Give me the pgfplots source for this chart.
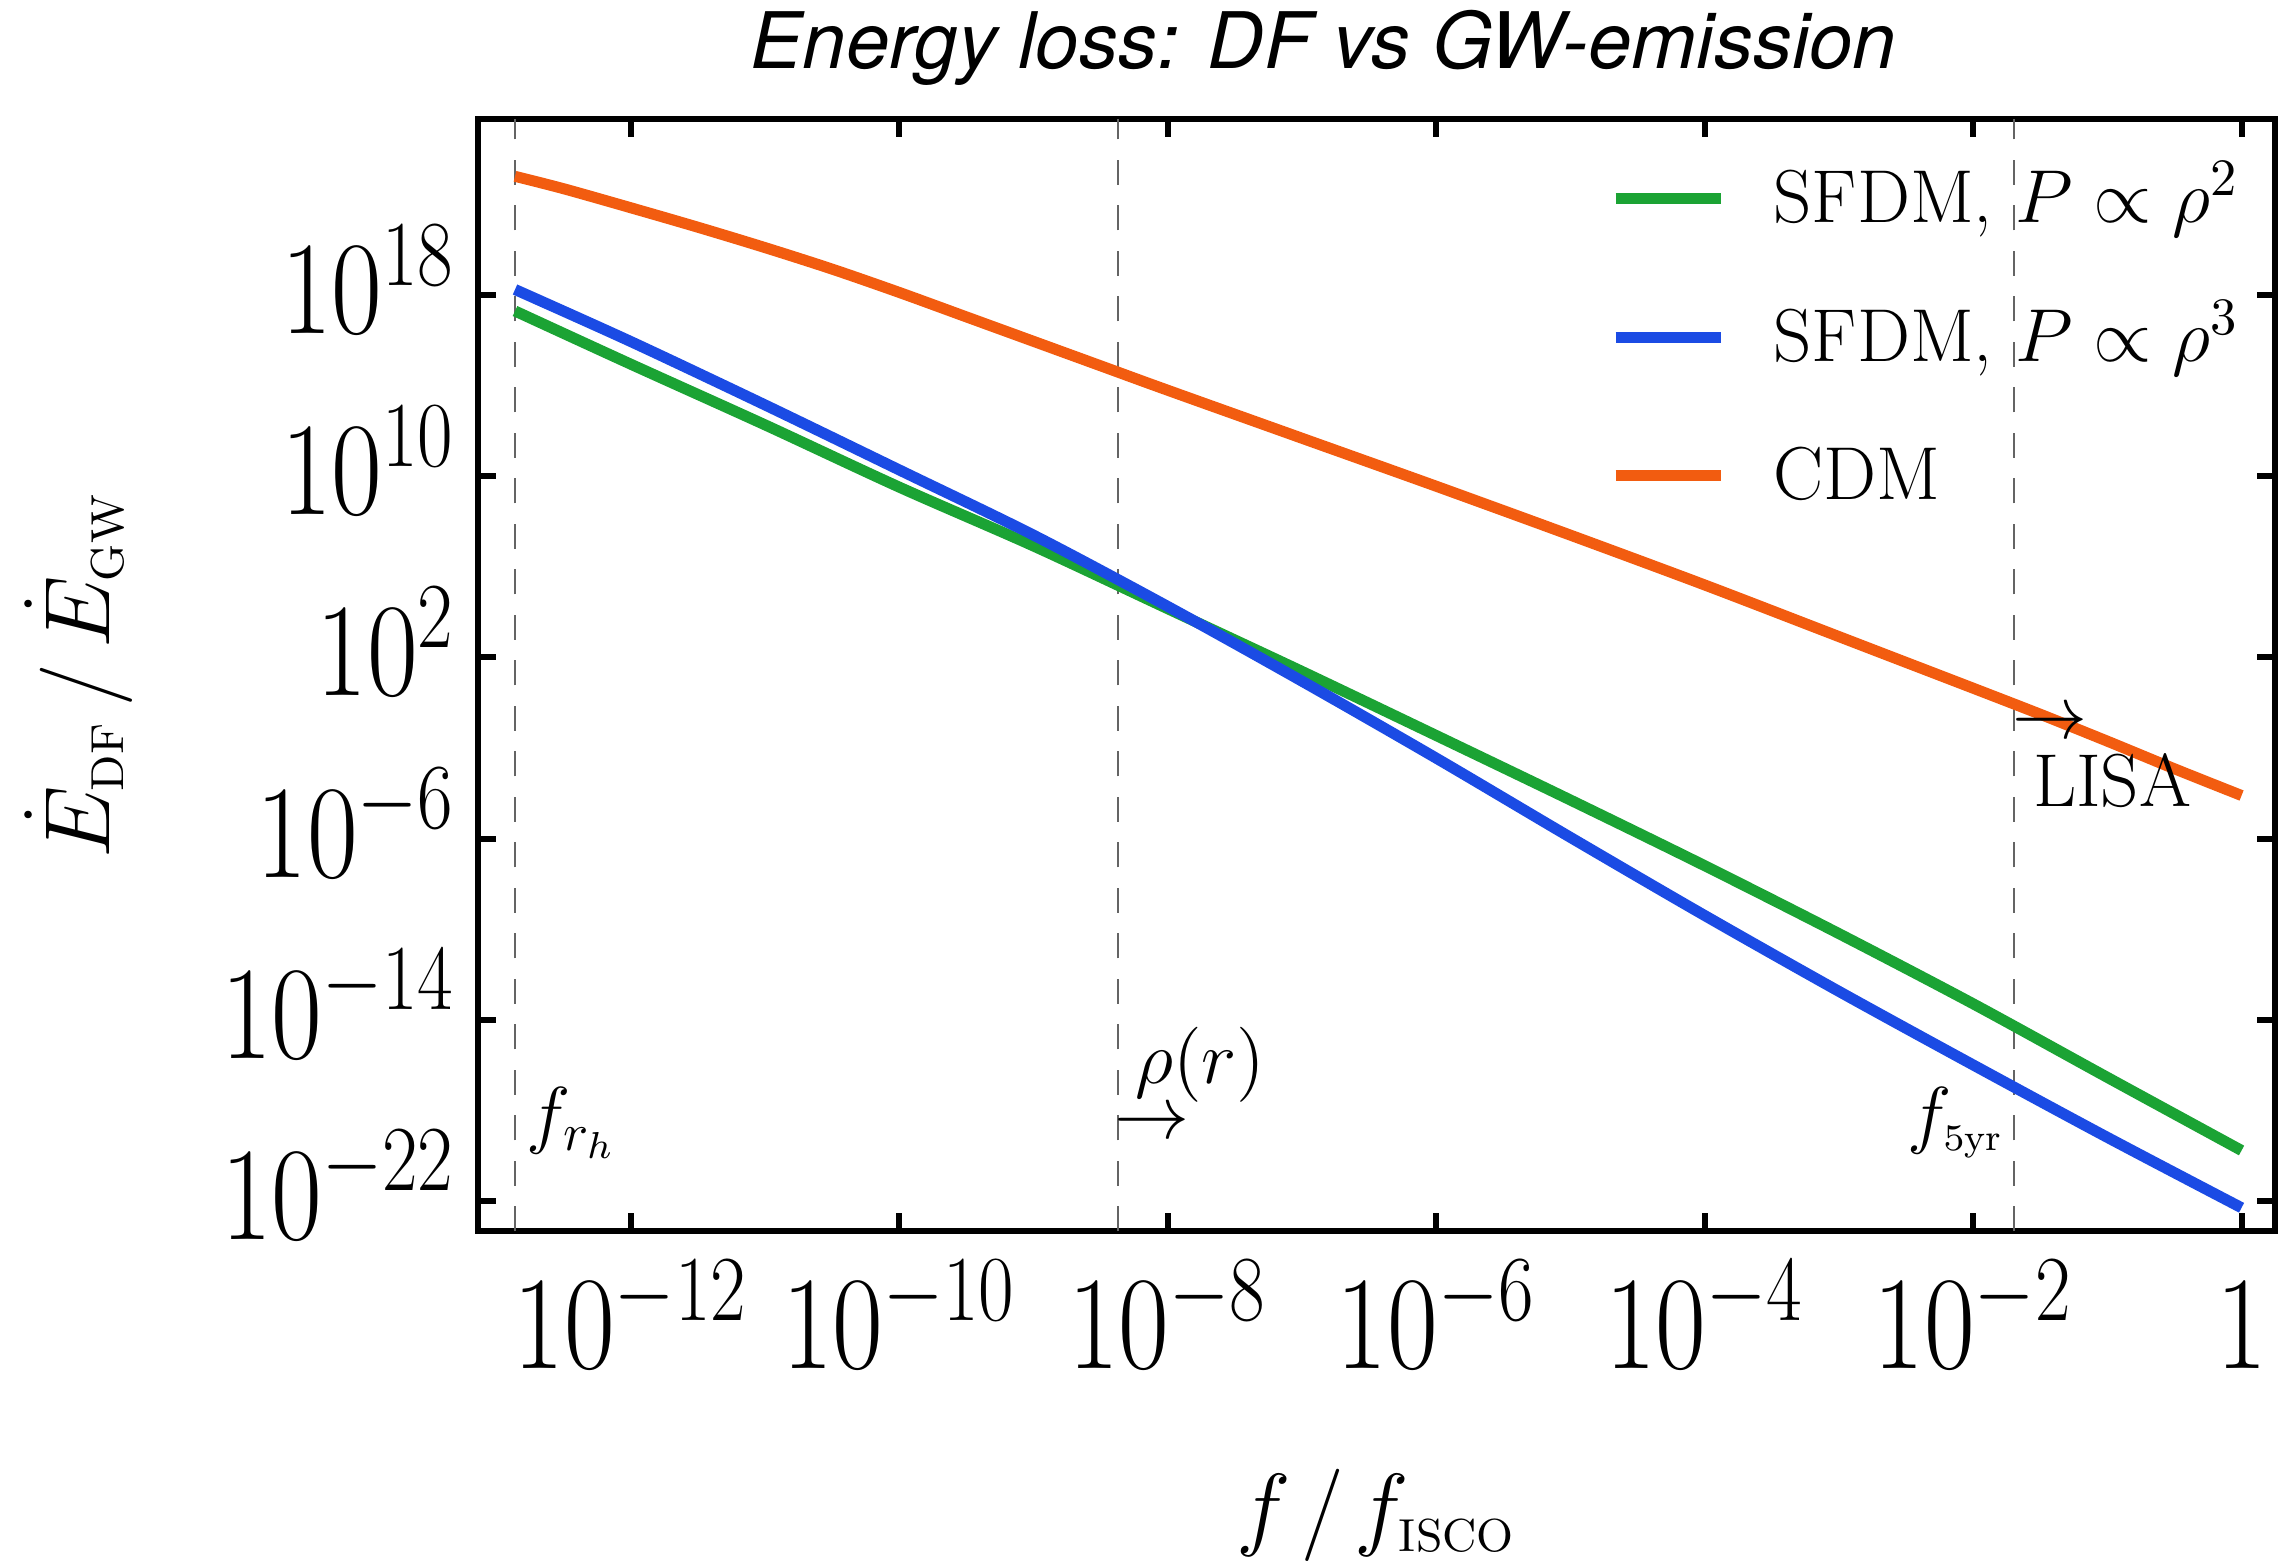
\RequirePackage{fix-cm}
\documentclass[border=0pt]{standalone}
\usepackage{fontspec}
\usepackage{graphicx}
\usepackage{pgfplots}
\pgfplotsset{compat=1.18}
\newfontfamily\heros{TeX Gyre Heros}
\definecolor{cgreen}{RGB}{27,163,52}
\definecolor{cblue}{RGB}{27,75,228}
\definecolor{corange}{RGB}{242,92,16}
\definecolor{cdash}{RGB}{100,100,100}
\newcommand\tl[1]{\scalebox{0.83}[1]{#1}}
\begin{document}
\begin{tikzpicture}
\begin{axis}[
  name=ax,
  scale only axis,
  width=359.4pt, height=222.36pt,
  xmode=log, ymode=log,
  xmin=7.26e-14, xmax=1.774,
  ymin=4.47e-24, ymax=5.75e25,
  xtick={1e-12,1e-10,1e-8,1e-6,1e-4,1e-2,1},
  xticklabels={\tl{$10^{-12}$},\tl{$10^{-10}$},\tl{$10^{-8}$},\tl{$10^{-6}$},\tl{$10^{-4}$},\tl{$10^{-2}$},\tl{$1$}},
  ytick={1e-22,1e-14,1e-6,1e2,1e10,1e18},
  yticklabels={\tl{$10^{-22}$},\tl{$10^{-14}$},\tl{$10^{-6}$},\tl{$10^{2}$},\tl{$10^{10}$},\tl{$10^{18}$}},
  xminorticks=false, yminorticks=false,
  tick align=inside,
  major tick length=3.6pt,
  tick style={black, line width=1.2pt},
  axis line style={line width=1.2pt},
  tick label style={font=\fontsize{26.6}{30}\selectfont, inner sep=0pt},
  xticklabel style={anchor=base, yshift=-27.4pt},
  yticklabel style={anchor=base east, xshift=-4.3pt, yshift=-7.7pt},
  xlabel={$f\mkern2mu/\mkern2mu f_{\scriptscriptstyle\mathrm{ISCO}}$},
  xlabel style={at={(axis description cs:0.5,-0.2759)}, anchor=base, inner sep=0pt, font=\fontsize{18.5}{22}\selectfont},
  ylabel={$\dot E_{\scriptscriptstyle\mathrm{DF}}\mkern3mu/\mkern3mu\dot E_{\scriptscriptstyle\mathrm{GW}}$},
  ylabel style={at={(axis description cs:-0.2052,0.5)}, anchor=base, inner sep=0pt, font=\fontsize{18.5}{22}\selectfont},
  legend cell align=left,
  legend style={at={(axis description cs:0.6300,0.9503)}, anchor=north west, draw=none, fill=none,
    inner sep=0pt, outer sep=0pt, row sep=18.1pt, column sep=9.4pt,
    font=\fontsize{15}{18}\selectfont,
    nodes={inner sep=0pt, text height=9.6pt, text depth=0pt}},
  legend image code/.code={\draw[#1] (0pt,0pt) -- (21.1pt,0pt);},
]
% vertical reference lines
\addplot[forget plot, cdash, line width=0.35pt, dash pattern=on 5pt off 4.1pt] coordinates {(1.371e-13,4.47e-24) (1.371e-13,5.75e25)};
\addplot[forget plot, cdash, line width=0.35pt, dash pattern=on 5pt off 4.1pt] coordinates {(4.285e-9,4.47e-24) (4.285e-9,5.75e25)};
\addplot[forget plot, cdash, line width=0.35pt, dash pattern=on 5pt off 4.1pt] coordinates {(2.014e-2,4.47e-24) (2.014e-2,5.75e25)};
% SFDM, P ~ rho^2
\addplot[cgreen, line width=2.2pt, smooth, tension=0.5] coordinates {
(1.371e-13,1.995e17) (1e-12,8.913e14) (1e-11,1.862e12) (1e-10,3.311e9)
(1e-9,8.318e6) (1e-8,1.413e4) (1e-7,23.99) (1e-6,0.03548) (1e-5,5.012e-5)
(1e-4,6.310e-8) (1e-3,6.310e-11) (1e-2,5.012e-14) (0.1,2.818e-17) (1,1.660e-20)};
\addlegendentry{SFDM, $P\propto\rho^2$}
% SFDM, P ~ rho^3
\addplot[cblue, line width=2.2pt, smooth, tension=0.5] coordinates {
(1.371e-13,1.778e18) (1e-12,8.913e15) (1e-11,1.413e13) (1e-10,1.905e10)
(1e-9,2.512e7) (1e-8,1.778e4) (1e-7,8.913) (1e-6,3.548e-3) (1e-5,1.122e-6)
(1e-4,3.981e-10) (1e-3,1.778e-13) (1e-2,1e-16) (0.1,6.310e-20) (1,4.898e-23)};
\addlegendentry{SFDM, $P\propto\rho^3$}
% CDM
\addplot[corange, line width=2.2pt, smooth, tension=0.5] coordinates {
(1.371e-13,1.778e23) (3.162e-13,5.012e22) (1e-12,7.244e21) (3.162e-12,1e21)
(1e-11,1.259e20) (3.162e-11,1.413e19) (1e-10,1.318e18) (3.162e-10,1.096e17)
(1e-9,9.120e15) (3.162e-9,7.586e14) (1e-8,6.310e13) (1e-7,4.786e11)
(1e-6,3.631e9) (1e-5,2.512e7) (1e-4,1.585e5) (1e-3,831.8) (3.162e-3,60.26)
(1e-2,4.365) (3.162e-2,0.3090) (0.1,0.01995) (0.3162,1.202e-3) (1,7.943e-5)};
\addlegendentry{CDM}
% annotations
\node[anchor=base west, inner sep=0pt, font=\fontsize{15}{18}\selectfont] at (rel axis cs:0.0267,0.0830) {$f_{r_h}$};
\node[anchor=base west, inner sep=0pt, font=\fontsize{15}{18}\selectfont] at (rel axis cs:0.3653,0.1325) {$\rho(r)$};
\node[anchor=base west, inner sep=0pt, font=\fontsize{15}{18}\selectfont] at (rel axis cs:0.3534,0.0835) {$\rightarrow$};
\node[anchor=base east, inner sep=0pt, font=\fontsize{15}{18}\selectfont] at (rel axis cs:0.8497,0.0826) {$f_{\scriptscriptstyle 5\mathrm{yr}}$};
\node[anchor=base west, inner sep=0pt, font=\fontsize{15}{18}\selectfont] at (rel axis cs:0.8531,0.4430) {$\rightarrow$};
\node[anchor=base west, inner sep=0pt, font=\fontsize{15}{18}\selectfont] at (rel axis cs:0.8648,0.3824) {LISA};
\end{axis}
\node[anchor=base, inner sep=0pt, font=\fontsize{15.6}{18}\selectfont\heros\itshape] at ([shift={(169.1pt,10.24pt)}]ax.north west) {Energy loss: DF vs GW-emission};
\pgfresetboundingbox
\path[use as bounding box] ([shift={(-95.6pt,-66.74pt)}]ax.south west) rectangle ([shift={(1pt,23.9pt)}]ax.north east);
\end{tikzpicture}
\end{document}
